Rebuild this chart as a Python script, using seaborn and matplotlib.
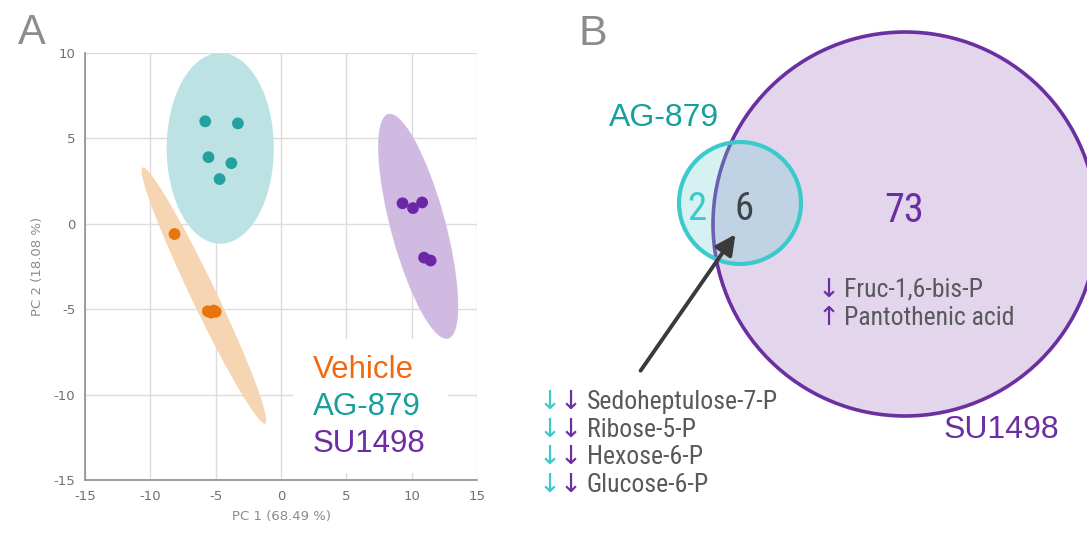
import pandas as pd
import seaborn as sns
import matplotlib.pyplot as plt
from matplotlib.patches import Ellipse, Circle, Rectangle

# PCA scores
groups = ['Vehicle', 'AG-879', 'SU1498']
vehicle_pc1 = [-8.15, -5.6, -5.35, -5.15, -5.0]
vehicle_pc2 = [-0.6, -5.12, -5.2, -5.08, -5.15]
ag879_pc1 = [-5.8, -3.3, -5.55, -3.8, -4.7]
ag879_pc2 = [6.0, 5.88, 3.9, 3.55, 2.62]
su1498_pc1 = [9.3, 10.1, 10.8, 10.95, 11.45]
su1498_pc2 = [1.2, 0.92, 1.25, -1.98, -2.15]

# 95% ellipses per group: centre x, centre y, width, height, angle
ell_cx = [-5.9, -4.65, 10.5]
ell_cy = [-4.2, 4.42, -0.15]
ell_w = [17.7, 8.2, 13.94]
ell_h = [1.8, 11.17, 4.1]
ell_angle = [-57.8, 0, -70]

# Venn counts (panel B)
only_ag879 = 2
shared = 6
only_su1498 = 73
shared_metabolites = ['Sedoheptulose-7-P', 'Ribose-5-P', 'Hexose-6-P', 'Glucose-6-P']
su_metabolites = ['Fruc-1,6-bis-P', 'Pantothenic acid']
su_direction = ['down', 'up']

point_colors = ['#E8740C', '#23A19F', '#6A28A8']
label_colors = ['#F26A10', '#16A09C', '#6B2CA6']
fill_colors = ['#F5D5B2', '#BDE2E4', '#D1BAE2']
GRAY = '#58595B'
COND = ['Roboto Condensed', 'Liberation Sans Narrow', 'Roboto', 'DejaVu Sans']
SANS = ['Liberation Sans', 'DejaVu Sans']

df = pd.DataFrame({
    'PC1': vehicle_pc1 + ag879_pc1 + su1498_pc1,
    'PC2': vehicle_pc2 + ag879_pc2 + su1498_pc2,
    'group': [groups[0]] * len(vehicle_pc1) + [groups[1]] * len(ag879_pc1) + [groups[2]] * len(su1498_pc1),
})

sns.set_theme(style='whitegrid')
plt.rcParams['font.family'] = ['DejaVu Sans']
plt.rcParams['axes.unicode_minus'] = False

W, H = 1087, 535
fig = plt.figure(figsize=(W / 100, H / 100), dpi=100)

# ---------- panel A: PCA ----------
ax = fig.add_axes([85 / W, 1 - 480 / H, 392 / W, 427 / H])
ax.set_axisbelow(True)
for i in range(3):
    ax.add_patch(Ellipse((ell_cx[i], ell_cy[i]), ell_w[i], ell_h[i], angle=ell_angle[i],
                         facecolor=fill_colors[i], edgecolor='none', zorder=1))
sns.scatterplot(data=df, x='PC1', y='PC2', hue='group', palette=point_colors,
                s=72, edgecolor='none', legend=False, ax=ax, zorder=3)
ax.set_xlim(-15, 15)
ax.set_ylim(-15, 10)
ax.set_xticks(range(-15, 16, 5))
ax.set_yticks(range(-15, 11, 5))
ax.grid(True, color='#DCDCDC', lw=1)
ax.tick_params(colors='#707070', labelsize=9.5, length=0, pad=7)
for s in ['top', 'right']:
    ax.spines[s].set_visible(False)
for s in ['left', 'bottom']:
    ax.spines[s].set_color('#8E8E8E')
    ax.spines[s].set_linewidth(1.2)
ax.set_xlabel('PC 1 (68.49 %)', color='#8A8A8A', fontsize=9.5, labelpad=5)
ax.set_ylabel('PC 2 (18.08 %)', color='#8A8A8A', fontsize=9.5, labelpad=7)

# legend on a white box
ax.add_patch(Rectangle((0.92, -14.57), 11.85, 7.8, facecolor='white', edgecolor='none', zorder=0.8))
for i, g in enumerate(groups):
    ax.text(2.45, -8.55 - 2.16 * i, g, color=label_colors[i], fontsize=22.5,
            family=SANS, va='center', ha='left', zorder=4)

fig.text(18 / W, 1 - 33 / H, 'A', fontsize=30, color='#8A8C8E', family=SANS, va='center', ha='left')

# ---------- panel B: Venn ----------
bx = fig.add_axes([540 / W, 0, (W - 540) / W, 1])
bx.set_xlim(540, W)
bx.set_ylim(H, 0)
bx.axis('off')

bx.add_patch(Circle((905, 224), 192, facecolor='#E2D5EC', edgecolor='#6B2FA2', lw=2.6))
bx.add_patch(Circle((740, 203), 61, facecolor=(0.455, 0.82, 0.835, 0.3), edgecolor='#3BC9CC', lw=3))

bx.text(697, 210, str(only_ag879), color='#3CC8CC', fontsize=28, family=COND, ha='center', va='center')
bx.text(744, 210, str(shared), color='#3D4548', fontsize=28, family=COND, ha='center', va='center')
bx.text(904, 210, str(only_su1498), color='#6B2FA2', fontsize=29, family=COND, ha='center', va='center')

bx.text(609, 118, 'AG-879', color='#15A09D', fontsize=23, family=SANS, ha='left', va='center')
bx.text(944, 430, 'SU1498', color='#6B2FA2', fontsize=23, family=SANS, ha='left', va='center')

bx.annotate('', xy=(737, 232), xytext=(639, 373),
            arrowprops=dict(arrowstyle='-|>', color='#3A3A3A', lw=2.8, mutation_scale=30))

for i, name in enumerate(shared_metabolites):
    y = 402 + 27.7 * i
    bx.text(550, y, '\u2193', color='#3CC8CC', fontsize=19, family=COND, ha='center', va='center')
    bx.text(571, y, '\u2193', color='#6B2FA2', fontsize=19, family=COND, ha='center', va='center')
    bx.text(587, y, name, color=GRAY, fontsize=18.5, family=COND, ha='left', va='center')

for i, name in enumerate(su_metabolites):
    y = 290 + 28 * i
    arrow = '\u2193' if su_direction[i] == 'down' else '\u2191'
    bx.text(829, y, arrow, color='#6B2FA2', fontsize=19, family=COND, ha='center', va='center')
    bx.text(844, y, name, color=GRAY, fontsize=18.5, family=COND, ha='left', va='center')

fig.text(579 / W, 1 - 34 / H, 'B', fontsize=31, color='#8A8C8E', family=SANS, va='center', ha='left')

fig.savefig('out.png', dpi=100)
